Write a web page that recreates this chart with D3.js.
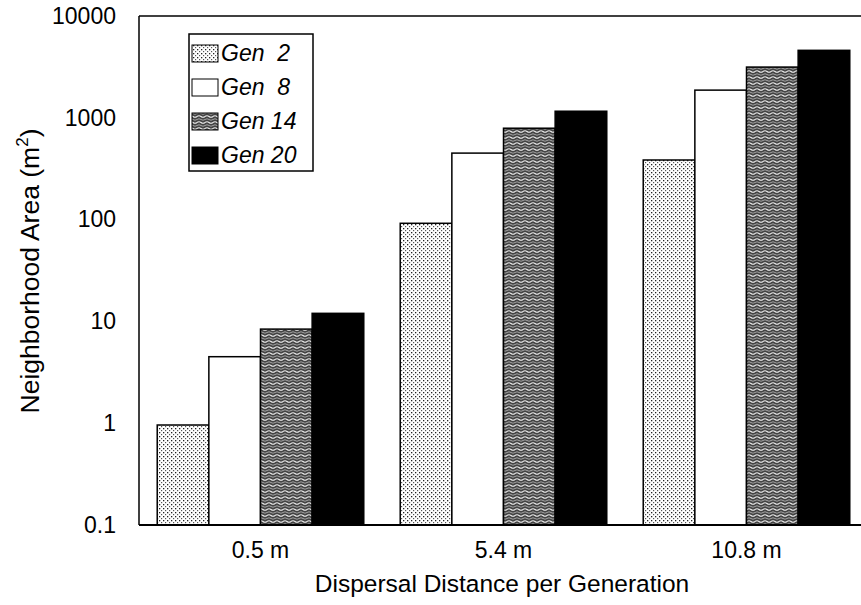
<!DOCTYPE html>
<html>
<head>
<meta charset="utf-8">
<script src="https://cdn.jsdelivr.net/npm/d3@7"></script>
<style>
  body { margin: 0; background: #fff; }
  svg text { font-family: "Liberation Sans", Arial, sans-serif; fill: #000; }
</style>
</head>
<body>
<div id="chart"></div>
<script>
// categories and series values
var distances = ["0.5 m", "5.4 m", "10.8 m"];
var generations = ["Gen  2", "Gen  8", "Gen 14", "Gen 20"];
var gen2 = [0.96, 92, 385];
var gen8 = [4.5, 450, 1870];
var gen14 = [8.4, 790, 3150];
var gen20 = [12, 1160, 4600];
var yTicks = [0.1, 1, 10, 100, 1000, 10000];

var series = [gen2, gen8, gen14, gen20];

var width = 861, height = 605;
var margin = { left: 139, top: 16, right: -7, bottom: 80 };
var innerW = width - margin.left - margin.right;
var innerH = height - margin.top - margin.bottom;

var svg = d3.select("#chart").append("svg")
  .attr("width", width)
  .attr("height", height);

// fill patterns
var defs = svg.append("defs");

var dots = defs.append("pattern")
  .attr("id", "dots")
  .attr("patternUnits", "userSpaceOnUse")
  .attr("width", 4).attr("height", 4);
dots.append("rect").attr("width", 4).attr("height", 4).attr("fill", "#fff");
dots.append("rect").attr("x", 0).attr("y", 0).attr("width", 1.3).attr("height", 1.3).attr("fill", "#222");
dots.append("rect").attr("x", 2).attr("y", 2).attr("width", 1.2).attr("height", 1.2).attr("fill", "#555");

var waves = defs.append("pattern")
  .attr("id", "waves")
  .attr("patternUnits", "userSpaceOnUse")
  .attr("width", 8).attr("height", 6);
waves.append("rect").attr("width", 8).attr("height", 6).attr("fill", "#444");
waves.append("path")
  .attr("d", "M0,1.5 Q2,0 4,1.5 T8,1.5")
  .attr("fill", "none").attr("stroke", "#eee").attr("stroke-width", 1.1);
waves.append("path")
  .attr("d", "M0,4.5 Q2,3 4,4.5 T8,4.5")
  .attr("fill", "none").attr("stroke", "#bbb").attr("stroke-width", 0.8);

var fills = ["url(#dots)", "#fff", "url(#waves)", "#000"];

var g = svg.append("g").attr("transform", "translate(" + margin.left + "," + margin.top + ")");

var x0 = d3.scaleBand().domain(distances).range([0, innerW]).paddingInner(0.15).paddingOuter(0.075);
var x1 = d3.scaleBand().domain(generations).range([0, x0.bandwidth()]);
var y = d3.scaleLog().domain([0.1, 10000]).range([innerH, 0]);

// bars
distances.forEach(function (dist, i) {
  generations.forEach(function (gen, j) {
    var v = series[j][i];
    g.append("rect")
      .attr("x", x0(dist) + x1(gen))
      .attr("y", y(v))
      .attr("width", x1.bandwidth())
      .attr("height", innerH - y(v))
      .attr("fill", fills[j])
      .attr("stroke", "#000")
      .attr("stroke-width", 1.5);
  });
});

// frame lines (left, top, bottom)
g.append("line").attr("x1", 0).attr("x2", 0).attr("y1", 0).attr("y2", innerH)
  .attr("stroke", "#000").attr("stroke-width", 1.5);
g.append("line").attr("x1", 0).attr("x2", innerW).attr("y1", 0).attr("y2", 0)
  .attr("stroke", "#000").attr("stroke-width", 1.5);
g.append("line").attr("x1", 0).attr("x2", innerW).attr("y1", innerH).attr("y2", innerH)
  .attr("stroke", "#000").attr("stroke-width", 2);

// y axis labels
var yAxis = d3.axisLeft(y).tickValues(yTicks).tickSize(0).tickPadding(23)
  .tickFormat(function (d) { return d < 1 ? "0.1" : d3.format("d")(d); });
var yg = g.append("g").call(yAxis).attr("font-size", null).attr("font-family", null);
yg.select(".domain").remove();
yg.selectAll("text").style("font-size", "23px");

// x axis labels
var xAxis = d3.axisBottom(x0).tickSize(0).tickPadding(17);
var xg = g.append("g").attr("transform", "translate(0," + innerH + ")").call(xAxis)
  .attr("font-size", null).attr("font-family", null);
xg.select(".domain").remove();
xg.selectAll("text").style("font-size", "23px");

// axis titles
svg.append("text")
  .attr("x", 502)
  .attr("y", 592)
  .style("font-size", "24.5px")
  .attr("text-anchor", "middle")
  .text("Dispersal Distance per Generation");

var yt = svg.append("text")
  .attr("transform", "translate(39," + 271 + ") rotate(-90)")
  .style("font-size", "26.5px")
  .attr("text-anchor", "middle");
yt.append("tspan").text("Neighborhood Area (m");
yt.append("tspan").style("font-size", "17px").attr("dy", -11).text("2");
yt.append("tspan").attr("dy", 11).text(")");

// legend
var legend = svg.append("g").attr("transform", "translate(189,34)");
legend.append("rect").attr("width", 124).attr("height", 137)
  .attr("fill", "#fff").attr("stroke", "#000").attr("stroke-width", 1.5);
generations.forEach(function (gen, j) {
  var row = legend.append("g").attr("transform", "translate(0," + (19 + j * 34) + ")");
  row.append("rect").attr("x", 3).attr("y", -8).attr("width", 26).attr("height", 17)
    .attr("fill", fills[j]).attr("stroke", "#000").attr("stroke-width", 1);
  row.append("text").attr("x", 32).attr("y", 8)
    .style("font-size", "23px").style("font-style", "italic")
    .style("white-space", "pre")
    .text(gen);
});
</script>
</body>
</html>
